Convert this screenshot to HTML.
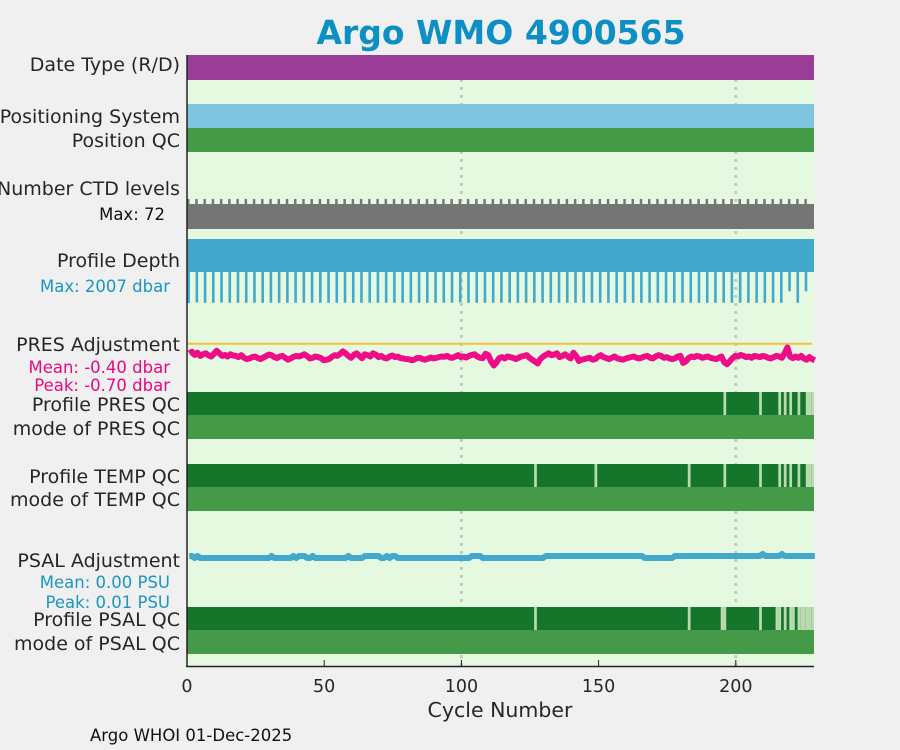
<!DOCTYPE html>
<html><head><meta charset="utf-8"><style>
html,body{margin:0;padding:0;background:#f0f0f0;}
svg{display:block;font-family:"DejaVu Sans","Liberation Sans",sans-serif;}
</style></head><body>
<svg id="fig" width="900" height="750" viewBox="0 0 900 750" xmlns="http://www.w3.org/2000/svg">
<rect x="0" y="0" width="900" height="750" fill="#f0f0f0"/>
<text x="501" y="44" text-anchor="middle" font-size="33" font-weight="bold" fill="#0b8fc4">Argo WMO 4900565</text>
<rect x="187" y="55" width="627" height="611" fill="#e5f9e0"/>
<g id="grid"></g>
<g id="marks"></g>
<line x1="187" y1="55" x2="187" y2="667" stroke="#222" stroke-width="1.5"/>
<line x1="186" y1="666.5" x2="814" y2="666.5" stroke="#222" stroke-width="1.5"/>
<g id="xticks"></g>
<text x="500" y="717" text-anchor="middle" font-size="20.5" fill="#262626">Cycle Number</text>
<g font-size="19" fill="#262626" text-anchor="end">
<text x="180" y="71">Date Type (R/D)</text>
<text x="180" y="123">Positioning System</text>
<text x="180" y="147">Position QC</text>
<text x="180" y="195">Number CTD levels</text>
<text x="180" y="267">Profile Depth</text>
<text x="180" y="351">PRES Adjustment</text>
<text x="180" y="411">Profile PRES QC</text>
<text x="180" y="435">mode of PRES QC</text>
<text x="180" y="483">Profile TEMP QC</text>
<text x="180" y="506">mode of TEMP QC</text>
<text x="180" y="567">PSAL Adjustment</text>
<text x="180" y="626">Profile PSAL QC</text>
<text x="180" y="650">mode of PSAL QC</text>
</g>
<g font-size="16.5" text-anchor="end">
<text x="165" y="220" fill="#111">Max: 72</text>
<text x="170" y="292" fill="#1a96c2">Max: 2007 dbar</text>
<text x="170" y="373" fill="#e8087f">Mean: -0.40 dbar</text>
<text x="170" y="391" fill="#e8087f">Peak: -0.70 dbar</text>
<text x="170" y="588" fill="#1a96c2">Mean: 0.00 PSU</text>
<text x="170" y="608" fill="#1a96c2">Peak: 0.01 PSU</text>
</g>
<text x="90" y="741" font-size="16.5" fill="#111">Argo WHOI 01-Dec-2025</text>
</svg>
<script>
const xTicks = [0, 50, 100, 150, 200];
const presLightCycles = [196, 209, 216, 218, 220, 223, 226, 227, 228];
const tempLightCycles = [127, 149, 183, 196, 209, 216, 218, 220, 223, 226, 227, 228];
const psalLightCycles = [127, 183, 195, 196, 209, 215, 216, 218, 220, 221, 223, 224, 225, 226, 227, 228];
const deepCycles = [0,3,6,9,12,15,18,21,24,27,30,33,36,39,42,45,48,51,54,57,60,63,66,69,72,75,78,81,84,87,90,93,96,99,102,105,108,111,114,117,120,123,126,129,132,135,138,141,144,147,150,153,156,159,162,165,168,171,174,177,180,183,186,189,192,195,198,201,204,207,210,213,216,219,222,225];
const deepDepths = [2007,1990,2000,2000,1995,2000,2000,2000,2000,2000,2000,2000,2000,2000,2000,2000,2000,2000,2000,2000,2000,2000,2000,2000,2000,2000,2000,2000,2000,2000,2000,2000,2000,1990,2000,2000,2000,2000,2000,2000,2000,2000,2000,2000,2000,2000,2000,2000,2000,2000,2000,2000,2000,2000,2000,2000,2000,2000,2000,2000,2000,2000,2000,2000,2000,2000,2000,2000,2000,2000,2000,2000,2000,1640,2000,1640];
const presAdj = [-30,-25,-35,-28,-38,-33,-30,-36,-40,-32,
-22,-30,-38,-35,-40,-33,-37,-38,-42,-36,
-44,-48,-46,-42,-40,-45,-48,-43,-39,-34,
-36,-42,-45,-40,-38,-44,-50,-46,-41,-38,
-40,-37,-33,-39,-46,-44,-40,-42,-45,-52,
-50,-48,-41,-36,-38,-32,-24,-30,-38,-44,
-35,-30,-38,-45,-33,-36,-40,-30,-34,-42,
-38,-44,-46,-40,-37,-42,-40,-45,-46,-48,
-48,-52,-50,-45,-44,-48,-50,-47,-43,-46,
-44,-42,-40,-41,-38,-43,-44,-40,-36,-42,
-40,-43,-38,-35,-33,-40,-44,-45,-32,-36,
-55,-68,-58,-45,-42,-46,-40,-42,-44,-48,
-44,-40,-38,-36,-44,-50,-56,-62,-48,-40,
-35,-30,-36,-34,-30,-42,-38,-33,-40,-46,
-28,-38,-54,-50,-48,-46,-44,-50,-48,-40,
-36,-42,-45,-48,-44,-40,-46,-48,-50,-47,
-44,-42,-40,-44,-46,-43,-40,-38,-44,-46,
-40,-36,-38,-44,-42,-46,-48,-46,-40,-38,
-60,-55,-45,-40,-42,-38,-40,-44,-42,-40,
-44,-46,-48,-44,-40,-58,-64,-55,-45,-38,
-40,-35,-38,-42,-40,-44,-38,-40,-42,-38,
-40,-44,-46,-42,-38,-40,-44,-30,-12,-40,
-45,-40,-44,-38,-46,-50,-42,-48,-52];
const psalAdj = [
1,1,0,1,0,0,0,0,0,0,
0,0,0,0,0,0,0,0,0,0,
0,0,0,0,0,0,0,0,0,0,
1,0,0,0,0,0,0,0,1,0,
1,1,1,0,0,1,0,0,0,0,
0,0,0,0,0,0,0,0,1,0,
0,0,0,0,1,1,1,1,1,1,
0,0,1,0,1,1,0,0,0,0,
0,0,0,0,0,0,0,0,0,0,
0,0,0,0,0,0,0,0,0,0,
0,0,0,1,1,1,1,0,0,0,
0,0,0,0,0,0,0,0,0,0,
0,0,0,0,0,0,0,0,0,0,
1,1,1,1,1,1,1,1,1,1,
1,1,1,1,1,1,1,1,1,1,
1,1,1,1,1,1,1,1,1,1,
1,1,1,1,1,1,0,0,0,0,
0,0,0,0,0,0,0,1,1,1,
1,1,1,1,1,1,1,1,1,1,
1,1,1,1,1,1,1,1,1,1,
1,1,1,1,1,1,1,1,1,2,
1,1,1,1,1,1,2,1,1,1,
1,1,1,1,1,1,1,1,1];

const NS = 'http://www.w3.org/2000/svg';
const X0 = 187, XR = 814, PX = 2.744;
function xs(c){ return X0 + c * PX; }
function mk(tag, attrs, parent){
  const el = document.createElementNS(NS, tag);
  for (const k in attrs) el.setAttribute(k, attrs[k]);
  parent.appendChild(el);
  return el;
}
const grid = document.getElementById('grid');
const marks = document.getElementById('marks');
const xt = document.getElementById('xticks');

[100, 200].forEach(v => {
  const l = mk('line', {x1: xs(v), x2: xs(v), y1: 55, y2: 666, stroke: '#c8c8c8', 'stroke-width': 3, 'stroke-dasharray': '3,5'}, grid);
  
  
});

xTicks.forEach(v => {
  const t = mk('line', {x1: xs(v), x2: xs(v), y1: 660, y2: 666, stroke: '#222', 'stroke-width': 1}, xt);
  
  
  const tx = mk('text', {x: xs(v), y: 692, 'text-anchor': 'middle', 'font-size': 17.5, fill: '#262626'}, xt);
  tx.textContent = String(v);
  
  
});

function band(y, h, fill, name){
  const r = mk('rect', {x: X0, y: y, width: XR - X0, height: h, fill: fill}, marks);
  
  
}
band(55, 25, '#993d99', 'date-type-bar');
band(104, 24, '#7fc5df', 'positioning-system-bar');
band(128, 24, '#459a47', 'position-qc-bar');
band(204, 25, '#757575', 'ctd-levels-bar');
band(239, 33, '#42a9cc', 'profile-depth-bar');

deepCycles.forEach((c, i) => {
  const r = mk('rect', {x: xs(c), y: 199, width: PX * 0.9, height: 5, fill: '#757575'}, marks);
  
  
});
const depthTop = 239, depthScale = 64 / 2007;
deepCycles.forEach((c, i) => {
  const r = mk('rect', {x: xs(c) + 0.3, y: depthTop, width: PX * 0.95, height: deepDepths[i] * depthScale, fill: '#42a9cc'}, marks);
  
  
});

const zero1 = mk('line', {x1: X0 + 1, x2: XR - 2, y1: 343.7, y2: 343.7, stroke: '#f2c040', 'stroke-width': 2}, marks);


const yPres = v => 343.7 - (v / 100) * 32;
let d = presAdj.map((v, i) => (i ? 'L' : 'M') + xs(i + 0.8).toFixed(1) + ' ' + yPres(v).toFixed(1)).join(' ');
const pl = mk('path', {d: d, fill: 'none', stroke: '#ee0c88', 'stroke-width': 6, 'stroke-linejoin': 'round'}, marks);



const yPsal = v => 558 - (v / 100) * 200;
d = psalAdj.map((v, i) => (i ? 'L' : 'M') + xs(i + 0.8).toFixed(1) + ' ' + yPsal(v).toFixed(1)).join(' ');
const sl = mk('path', {d: d, fill: 'none', stroke: '#42a9cc', 'stroke-width': 6, 'stroke-linejoin': 'round'}, marks);



function qcRow(y, light, prefix){
  band(y, 23, '#15752b', prefix + '-profile-qc-bar');
  light.forEach(c => {
    const x1 = Math.max(X0, xs(c - 0.5)), x2 = Math.min(XR, xs(c + 0.5));
    const r = mk('rect', {x: x1, y: y, width: x2 - x1, height: 23, fill: '#b9dbb0'}, marks);
    
    
  });
  band(y + 23, 24, '#459a47', prefix + '-mode-qc-bar');
}
qcRow(392, presLightCycles, 'pres');
qcRow(464, tempLightCycles, 'temp');
qcRow(607, psalLightCycles, 'psal');
</script>
</body></html>
